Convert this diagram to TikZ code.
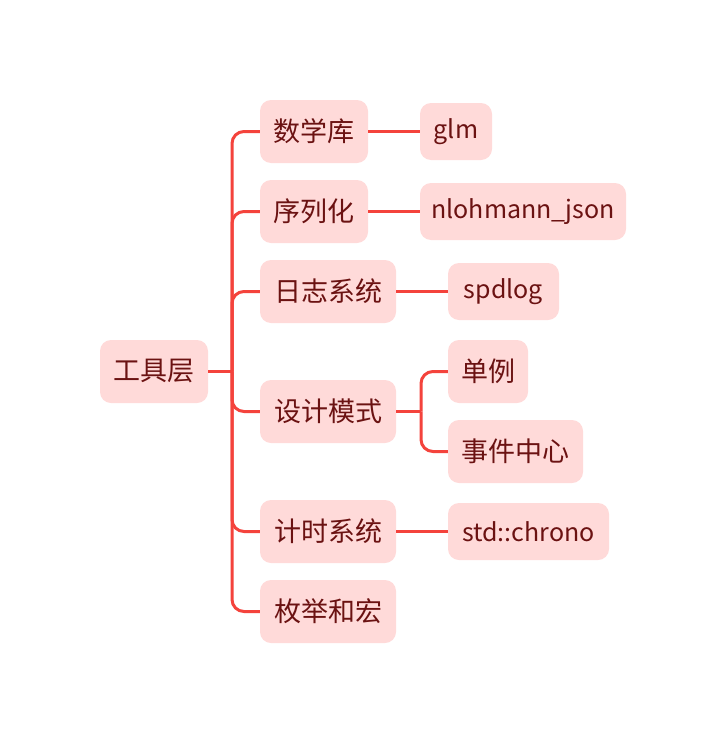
\documentclass[tikz,border=0pt]{standalone}
\usepackage{fontspec}
\setmainfont{Noto Sans CJK SC}
\definecolor{boxfill}{HTML}{FFDAD9}
\definecolor{linecol}{HTML}{F4433C}
\definecolor{txtcol}{HTML}{6B1212}
\tikzset{
  mbox/.style={fill=boxfill, rounded corners=11pt, text=txtcol, font=\fontsize{27}{32}\selectfont, inner sep=0pt, minimum height=63pt, anchor=center},
  lbox/.style={mbox, minimum height=57pt, font=\fontsize{25}{30}\selectfont},
  conn/.style={draw=linecol, line width=3pt, rounded corners=12pt}
}
\begin{document}
\begin{tikzpicture}[x=1pt,y=-1pt]
\useasboundingbox (0,0) rectangle (726,744);
\fill[white] (0,0) rectangle (726,744);
% root
\node[mbox, minimum width=108pt] (root) at (154,371.5) {工具层};
% children
\node[mbox, minimum width=108pt] (c1) at (314,131.5) {数学库};
\node[mbox, minimum width=108pt] (c2) at (314,211.5) {序列化};
\node[mbox, minimum width=136pt] (c3) at (328,291.5) {日志系统};
\node[mbox, minimum width=136pt] (c4) at (328,411.5) {设计模式};
\node[mbox, minimum width=136pt] (c5) at (328,531.5) {计时系统};
\node[mbox, minimum width=136pt] (c6) at (328,611.5) {枚举和宏};
% grandchildren
\node[lbox, minimum width=72pt] (g1) at (456,131.5) {glm};
\node[lbox, minimum width=206pt] (g2) at (523,211.5) {nlohmann\_json};
\node[lbox, minimum width=111pt] (g3) at (503.5,291.5) {spdlog};
\node[mbox, minimum width=80pt] (g4) at (488,371.5) {单例};
\node[mbox, minimum width=135pt] (g5) at (515.5,451.5) {事件中心};
\node[lbox, minimum width=161pt] (g6) at (528.5,531.5) {std::chrono};
% junctions
\coordinate (t) at (232,371.5);
\coordinate (s) at (421,411.5);
% connectors
\draw[conn] (root.east) -- (t);
\draw[conn] (t) |- (c1.west);
\draw[conn] (t) |- (c2.west);
\draw[conn] (t) |- (c3.west);
\draw[conn] (t) |- (c4.west);
\draw[conn] (t) |- (c5.west);
\draw[conn] (t) |- (c6.west);
\draw[conn] (c1.east) -- (g1.west);
\draw[conn] (c2.east) -- (g2.west);
\draw[conn] (c3.east) -- (g3.west);
\draw[conn] (c4.east) -- (s);
\draw[conn] (s) |- (g4.west);
\draw[conn] (s) |- (g5.west);
\draw[conn] (c5.east) -- (g6.west);
\end{tikzpicture}
\end{document}
